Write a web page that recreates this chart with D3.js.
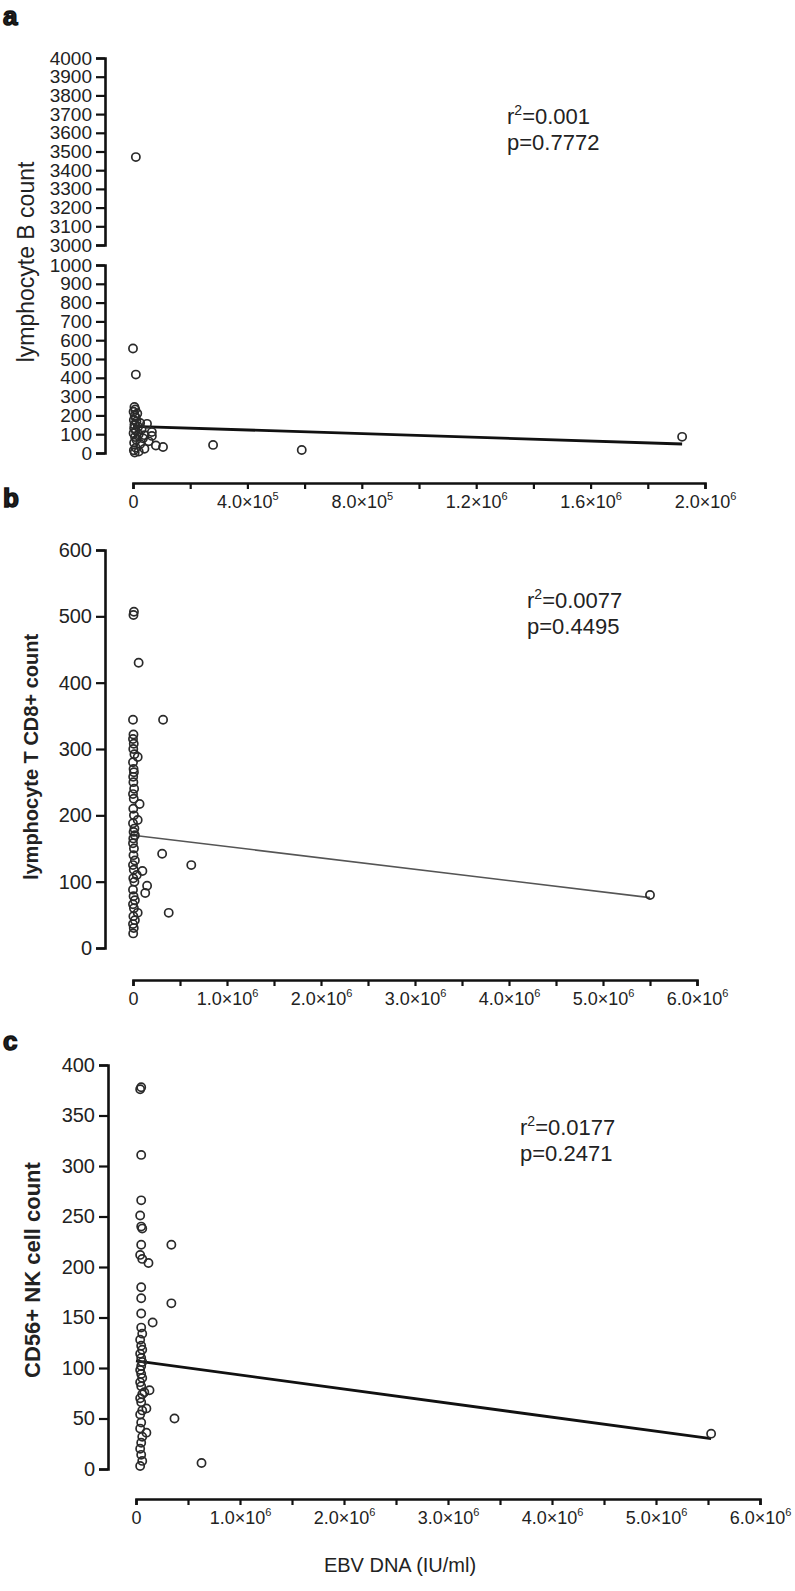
<!DOCTYPE html>
<html>
<head>
<meta charset="utf-8">
<script src="https://cdn.jsdelivr.net/npm/d3@7"></script>
<style>
body { margin: 0; background: #fff; }
svg text { font-family: "Liberation Sans", Arial, sans-serif; fill: #222; }
</style>
</head>
<body>
<script>

// panel a: lymphocyte B count vs EBV DNA
let aX = [1e4, 0, 1e4, 5e3, 8e3, 2e3, 1.5e4, 6e3, 1e4, 3e3, 1.2e4, 2.5e4, 4.9e4, 5e3, 1.8e4, 4e3, 3e4, 1e4, 6.6e4, 2e3,
    2e4, 4e4, 6.6e4, 7e3, 3.5e4, 1.2e4, 5.5e4, 4e3, 2.5e4, 8e4, 1.05e5, 1e4, 4e4, 3e3, 2e4, 6e3, 2.8e5, 5.9e5, 1.92e6];
let aY = [3470, 556, 417, 245, 232, 220, 210, 198, 188, 176, 168, 160, 155, 150, 140, 132, 125, 118, 112, 105,
    100, 95, 91, 85, 78, 70, 62, 55, 48, 40, 32, 28, 22, 15, 8, 3, 43, 16, 86];
let aFitX = [0, 1.92e6];
let aFitY = [142, 48];

// panel b: lymphocyte T CD8+ count
let bX = [1e4, 5e3, 6e4, 0, 3.2e5, 5e3, 0, 8e3, 3e3, 1.5e4, 5e4, 0, 6e3, 1e4, 2e3, 4e3, 1.2e4, 0, 8e3, 7e4,
    3e3, 1e4, 5e4, 0, 1.5e4, 6e3, 2e4, 3e3, 0, 1e4, 5e3, 3.1e5, 2e4, 0, 6.2e5, 8e3, 1e5, 4e4, 3e3, 1.5e4,
    1.5e5, 0, 1.3e5, 6e3, 2e4, 0, 1e4, 5e4, 3.8e5, 4e3, 2e4, 0, 8e3, 2e3, 5.5e6];
let bY = [507, 502, 430, 344, 344, 322, 315, 308, 300, 292, 288, 280, 270, 265, 258, 250, 240, 232, 225, 217,
    210, 200, 193, 188, 180, 175, 170, 165, 158, 150, 140, 142, 132, 125, 125, 118, 116, 110, 105, 100,
    94, 88, 83, 78, 72, 66, 60, 53, 53, 48, 42, 36, 30, 22, 80];
let bFitX = [0, 5.5e6];
let bFitY = [170, 76];

// panel c: CD56+ NK cell count
let cX = [5e4, 4e4, 5e4, 5e4, 4e4, 5e4, 6e4, 5e4, 3.4e5, 4e4, 6e4, 1.2e5, 5e4, 5e4, 3.4e5, 5e4, 1.6e5, 5e4, 6e4, 4e4,
    5e4, 6e4, 4e4, 5e4, 6e4, 5e4, 4e4, 5e4, 6e4, 4e4, 5e4, 1.3e5, 6e4, 8e4, 4e4, 5e4, 1e5, 6e4, 4e4, 3.7e5,
    5e4, 4e4, 1e5, 6e4, 5e4, 4e4, 5e4, 6e4, 4e4, 6.3e5, 5.53e6];
let cY = [378, 376, 311, 266, 251, 240, 238, 222, 222, 212, 208, 204, 180, 169, 164, 154, 145, 140, 134, 128,
    122, 118, 114, 110, 106, 102, 98, 94, 90, 86, 82, 78, 74, 76, 70, 66, 60, 58, 54, 50,
    46, 40, 36, 32, 26, 20, 14, 8, 3, 6, 35];
let cFitX = [0, 5.53e6];
let cFitY = [107, 30];

let panelLetters = ["a", "b", "c"];
let yTitles = ["lymphocyte B count", "lymphocyte T CD8+ count", "CD56+ NK cell count"];
let statR2 = ["0.001", "0.0077", "0.0177"];
let statP = ["0.7772", "0.4495", "0.2471"];
let xTitle = "EBV DNA (IU/ml)";

let svg = d3.select("body").append("svg")
    .attr("width", 795)
    .attr("height", 1591);

function sciLabel(sel, v) {
    if (v === 0) { sel.text("0"); return; }
    let e = Math.floor(Math.log10(v) + 1e-9);
    let m = v / Math.pow(10, e);
    sel.text(null);
    sel.append("tspan").text(m.toFixed(1) + "×10");
    sel.append("tspan").attr("dy", -8).attr("font-size", 11).text(e);
}

function styleAxis(a, fs) {
    a.select(".domain").attr("stroke", "#111").attr("stroke-width", 2.6);
    a.selectAll(".tick line").attr("stroke", "#111").attr("stroke-width", 2.2);
    a.selectAll(".tick text").attr("font-size", fs).attr("fill", "#222")
        .style("font-family", "'Liberation Sans', Arial, sans-serif");
}

function xAxis(g, x, y0, step) {
    let ticks = d3.range(0, x.domain()[1] + 1, step);
    let ax = d3.axisBottom(x).tickValues(ticks).tickSize(6).tickSizeOuter(6).tickPadding(6).tickFormat("");
    let a = g.append("g").attr("transform", "translate(0," + y0 + ")").call(ax);
    styleAxis(a, 18);
    a.selectAll(".tick text").each(function (d, i) {
        if (i % 2 === 0) sciLabel(d3.select(this), d);
    });
}

function yAxis(g, y, x0, step, fs) {
    let dom = y.domain();
    let ax = d3.axisLeft(y).tickValues(d3.range(dom[0], dom[1] + 1, step))
        .tickSize(9).tickSizeOuter(9).tickPadding(4).tickFormat(d3.format("d"));
    let a = g.append("g").attr("transform", "translate(" + x0 + ",0)").call(ax);
    styleAxis(a, fs);
}

function points(g, xs, ys, x, y) {
    g.append("g").selectAll("circle")
        .data(xs.map((d, i) => [d, ys[i]]))
        .enter()
        .append("circle")
        .attr("cx", d => x(d[0]))
        .attr("cy", d => y(d[1]))
        .attr("r", 4.1)
        .attr("fill", "none")
        .attr("stroke", "#2a2a2a")
        .attr("stroke-width", 1.7);
}

function fitLine(g, fx, fy, x, y, w, col) {
    g.append("path")
        .datum(fx.map((d, i) => [d, fy[i]]))
        .attr("fill", "none")
        .attr("stroke", col)
        .attr("stroke-width", w)
        .attr("d", d3.line().x(d => x(d[0])).y(d => y(d[1])));
}

function stats(g, x0, y0, r2, p) {
    let t = g.append("text").attr("x", x0).attr("y", y0).attr("font-size", 22).attr("fill", "#333");
    t.append("tspan").text("r");
    t.append("tspan").attr("dy", -9).attr("font-size", 14).text("2");
    t.append("tspan").attr("dy", 9).text("=" + r2);
    g.append("text").attr("x", x0).attr("y", y0 + 26).attr("font-size", 22).attr("fill", "#333").text("p=" + p);
}

function letter(g, s, x0, y0) {
    g.append("text").attr("x", x0).attr("y", y0).attr("font-size", 26)
        .attr("font-weight", "bold").attr("fill", "#111")
        .attr("stroke", "#111").attr("stroke-width", 1.5)
        .text(s);
}

function yTitle(g, s, x0, y0, fs, bold) {
    g.append("text")
        .attr("transform", "translate(" + x0 + "," + y0 + ") rotate(-90)")
        .attr("text-anchor", "middle")
        .attr("font-size", fs)
        .attr("font-weight", bold ? "bold" : "normal")
        .attr("fill", "#333")
        .text(s);
}

// ---- panel a (broken y axis)
let ga = svg.append("g");
let xa = d3.scaleLinear().domain([0, 2e6]).range([133, 705]);
let yaUp = d3.scaleLinear().domain([3000, 4000]).range([245, 58]);
let yaLo = d3.scaleLinear().domain([0, 1000]).range([453, 265]);
let ya = v => v >= 3000 ? yaUp(v) : yaLo(v);
letter(ga, panelLetters[0], 3, 25);
yAxis(ga, yaUp, 105, 100, 19);
yAxis(ga, yaLo, 105, 100, 19);
xAxis(ga, xa, 483, 2e5);
fitLine(ga, aFitX, aFitY, xa, ya, 2.8, "#111");
points(ga, aX, aY, xa, ya);
yTitle(ga, yTitles[0], 34, 262, 23, false);
stats(ga, 507, 124, statR2[0], statP[0]);

// ---- panel b
let gb = svg.append("g");
let xb = d3.scaleLinear().domain([0, 6e6]).range([133, 697]);
let yb = d3.scaleLinear().domain([0, 600]).range([948, 550]);
letter(gb, panelLetters[1], 3, 507);
yAxis(gb, yb, 105, 100, 20);
xAxis(gb, xb, 980, 5e5);
fitLine(gb, bFitX, bFitY, xb, yb, 1.6, "#555");
points(gb, bX, bY, xb, yb);
yTitle(gb, yTitles[1], 38, 757, 20, true);
stats(gb, 527, 608, statR2[1], statP[1]);

// ---- panel c
let gc = svg.append("g");
let xc = d3.scaleLinear().domain([0, 6e6]).range([136, 760]);
let yc = d3.scaleLinear().domain([0, 400]).range([1469, 1065]);
letter(gc, panelLetters[2], 3, 1050);
yAxis(gc, yc, 108, 50, 20);
xAxis(gc, xc, 1499, 5e5);
fitLine(gc, cFitX, cFitY, xc, yc, 2.8, "#111");
points(gc, cX, cY, xc, yc);
yTitle(gc, yTitles[2], 40, 1270, 22, true);
stats(gc, 520, 1135, statR2[2], statP[2]);

gc.append("text")
    .attr("x", 400).attr("y", 1572)
    .attr("text-anchor", "middle")
    .attr("font-size", 20)
    .attr("fill", "#333")
    .text(xTitle);

</script>
</body>
</html>
